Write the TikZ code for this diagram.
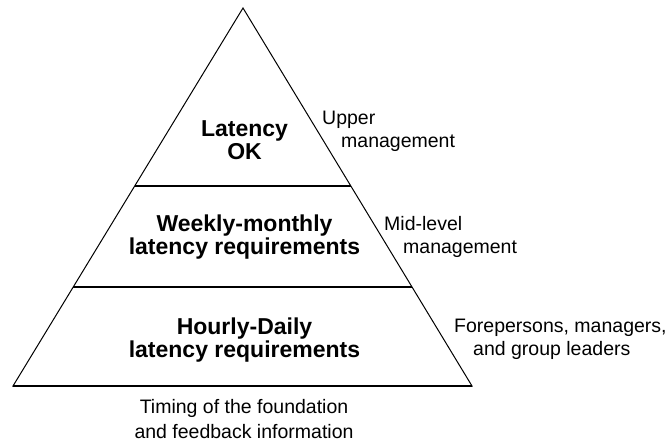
\documentclass[tikz,border=0pt]{standalone}
\usepackage{fontspec}
\setmainfont{Liberation Sans}
\begin{document}
\begin{tikzpicture}[x=1pt,y=-1pt,
  edge/.style={line width=1pt, line join=miter},
  divider/.style={line width=1.3pt},
  level/.style={font=\bfseries\fontsize{23}{23}\selectfont, align=center, anchor=base, inner sep=0pt},
  side/.style={font=\fontsize{19.5}{22.5}\selectfont, align=left, anchor=base west, inner sep=0pt},
  foot/.style={font=\fontsize{19.5}{25}\selectfont, align=center, anchor=base, inner sep=0pt}]
\useasboundingbox (0,0) rectangle (669,447);
\coordinate (apex) at (243,8);
\coordinate (bl) at (13,386);
\coordinate (br) at (472,386);
\coordinate (d1l) at (134.7,186);
\coordinate (d1r) at (350.8,186);
\coordinate (d2l) at (73.2,287);
\coordinate (d2r) at (412,287);
\draw[edge] (apex) -- (br) -- (bl) -- cycle;
\draw[divider] (d1l) -- (d1r);
\draw[divider] (d2l) -- (d2r);
\draw[divider] (bl) -- (br);
\node[level] (top) at (244.5,159.5) {Latency\\OK};
\node[level] (mid) at (244.5,254) {Weekly-monthly\\latency requirements};
\node[level] (bot) at (244.5,357) {Hourly-Daily\\latency requirements};
\node[side] (upper) at (322,147) {Upper\\\hspace*{19pt}management};
\node[side] (midlevel) at (384,253) {Mid-level\\\hspace*{19pt}management};
\node[side] (fore) at (454,355) {Forepersons, managers,\\\hspace*{19pt}and group leaders};
\node[foot] (timing) at (244,438) {Timing of the foundation\\and feedback information};
\end{tikzpicture}
\end{document}
